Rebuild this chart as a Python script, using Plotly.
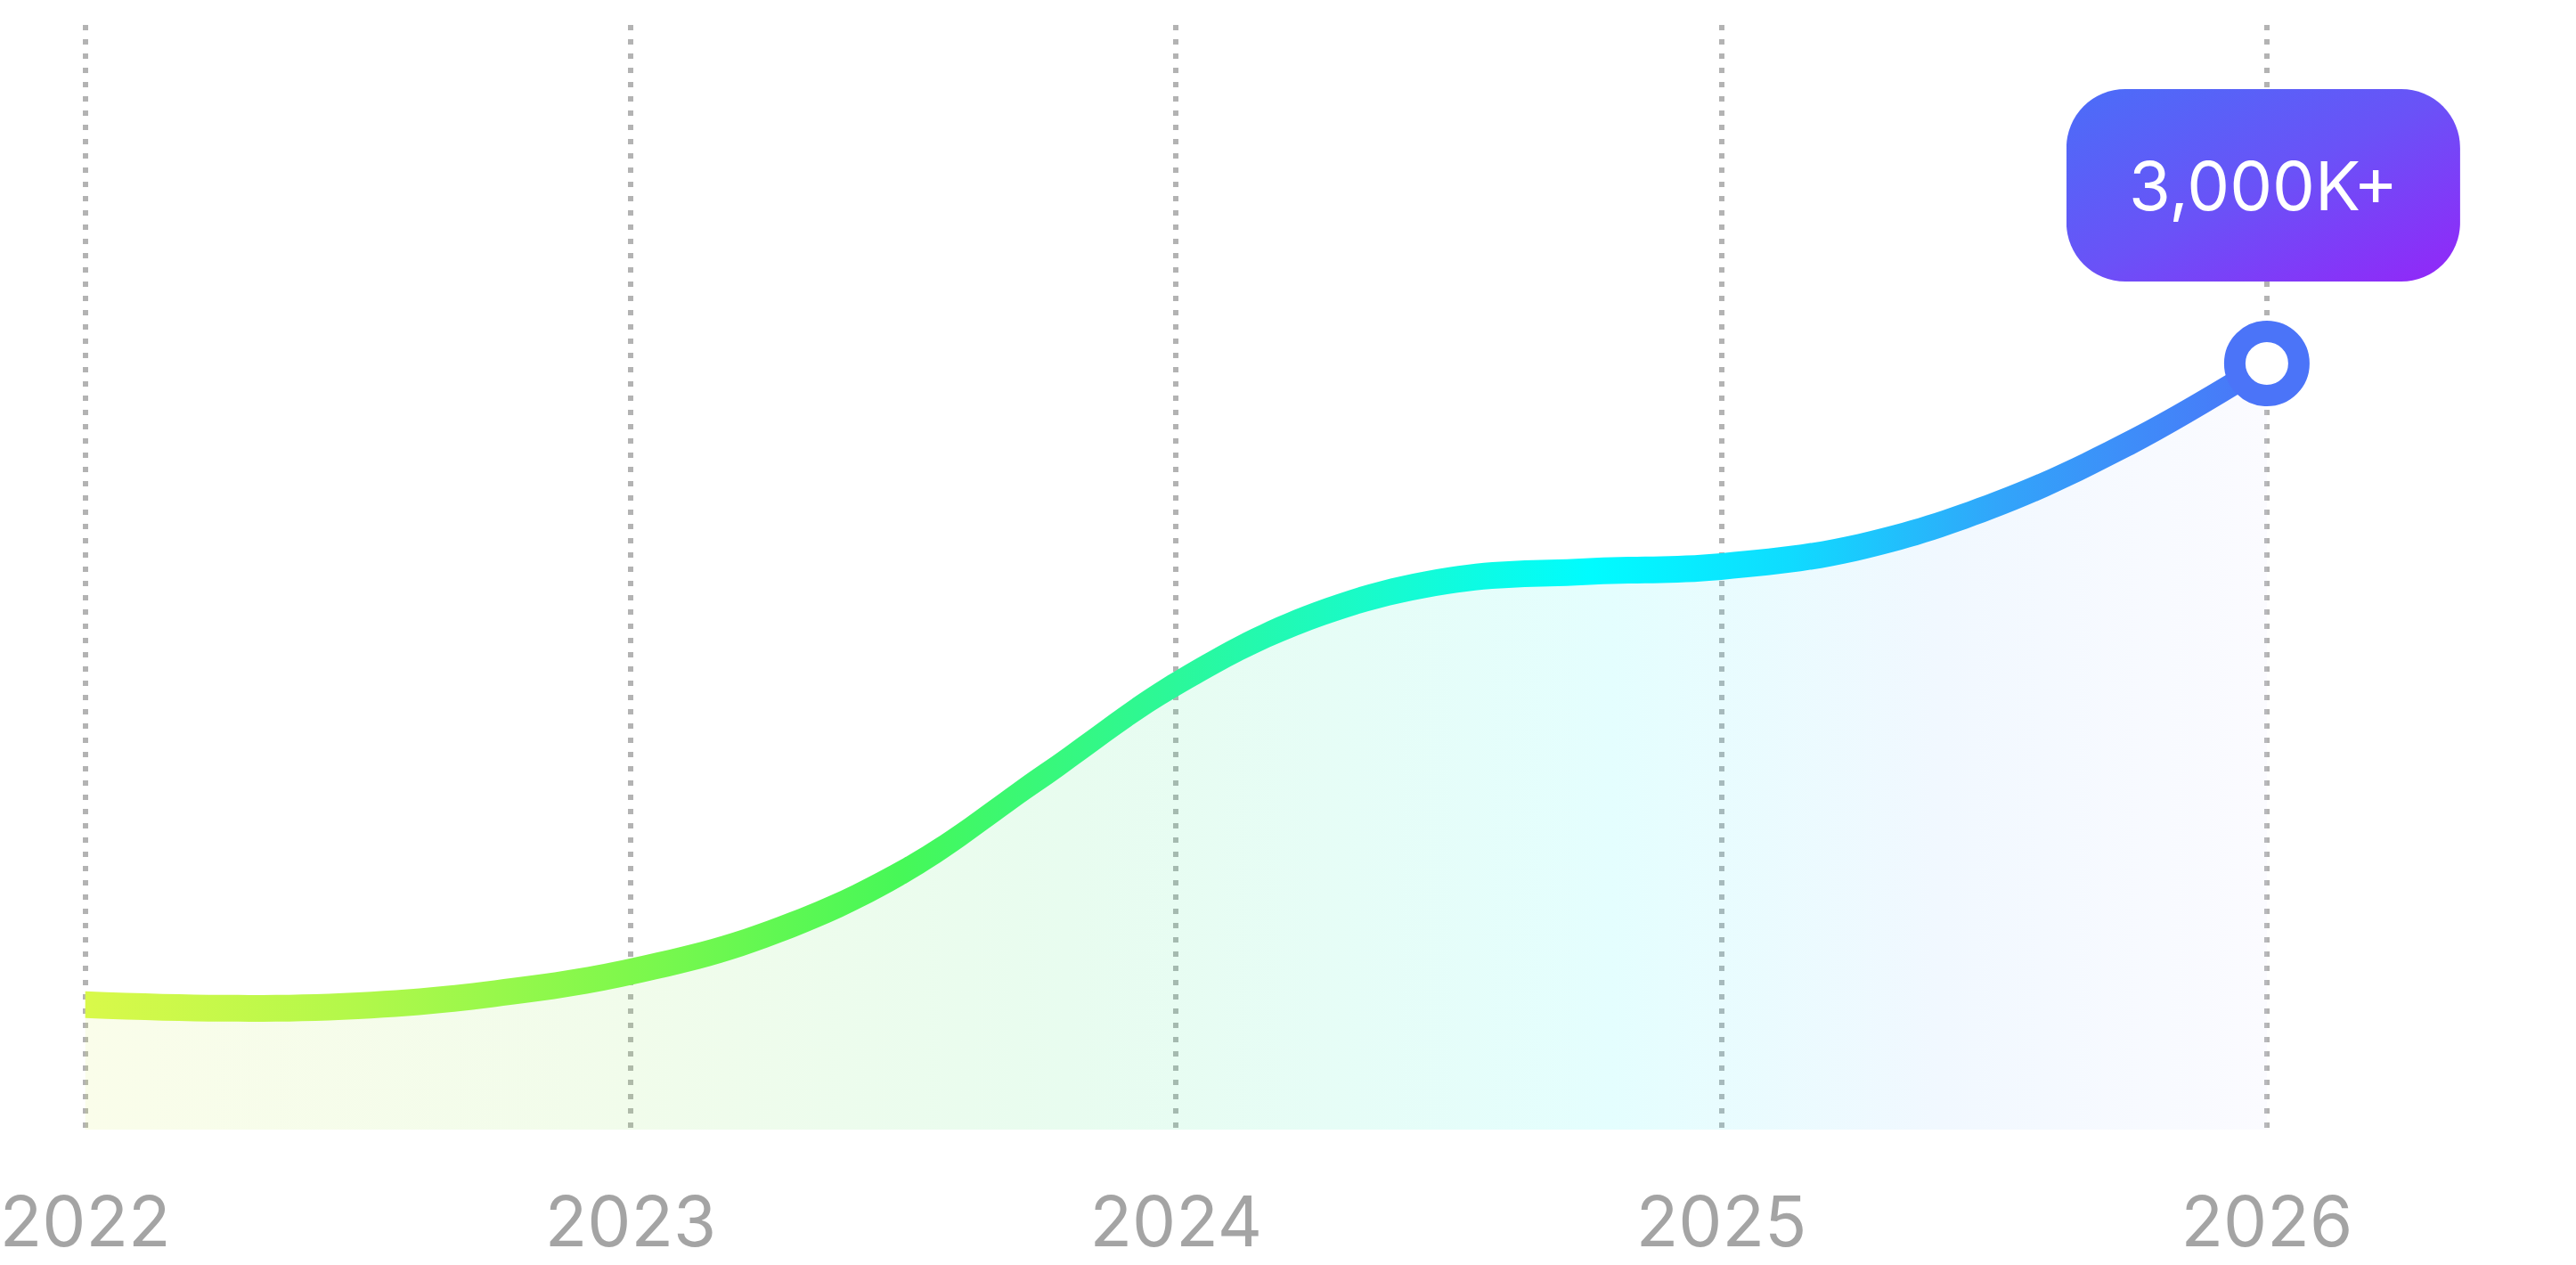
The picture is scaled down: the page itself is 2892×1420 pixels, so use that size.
import base64
import plotly.graph_objects as go

# ---------------- data ----------------
years = [2022.0, 2022.25, 2022.5, 2022.75, 2023.0, 2023.25, 2023.5, 2023.75,
         2024.0, 2024.25, 2024.5, 2024.75, 2025.0, 2025.25, 2025.5, 2025.75, 2026.0]
users_k = [489, 475, 485, 532, 618, 765, 1010, 1375,
           1745, 2010, 2150, 2185, 2205, 2280, 2445, 2690, 3000]
tick_years = [2022, 2023, 2024, 2025, 2026]
tick_labels = ["2022", "2023", "2024", "2025", "2026"]
badge_text = f"{users_k[-1]:,}K+"

# ---------------- layout constants ----------------
W, H = 2892, 1420
M_T, M_B = 28, 152
PLOT_H = H - M_T - M_B
X0_PX = 95.7            # pixel position of first year
PX_PER_YEAR = 612.3
PX_PER_K = 860 / 3000   # vertical pixels per thousand users
x_range = [years[0] - X0_PX / PX_PER_YEAR, years[0] + (W - X0_PX) / PX_PER_YEAR]
y_range = [0, PLOT_H / PX_PER_K]

LINE_HALF_PX = 15
half_k = LINE_HALF_PX / PX_PER_K
upper = [v + half_k for v in users_k]
lower = [v - half_k for v in users_k]

line_scale = [
    [0.0, "#d9f94a"], [0.125, "#b2f84a"], [0.25, "#7ef84c"], [0.375, "#46f858"],
    [0.5, "#2bf89a"], [0.6, "#16fbd0"], [0.69, "#00fcff"], [0.78, "#0fdcff"],
    [0.875, "#31a6fa"], [1.0, "#4b74f8"],
]

def tint(hexcol, a=0.13):
    h = hexcol.lstrip("#")
    rgb = [int(h[i:i + 2], 16) for i in (0, 2, 4)]
    base = [max(0, min(255, round(255 - (255 - c) / a))) for c in rgb]
    return f"rgba({base[0]},{base[1]},{base[2]},{a})"

fill_scale = [
    [0.0, tint("#fafdea")], [0.25, tint("#f1fceb")], [0.45, tint("#e8fcef")],
    [0.7, tint("#e4fefe")], [0.85, tint("#f1f8ff")], [1.0, tint("#fbfbff")],
]

CLEAR = "rgba(0,0,0,0)"
edge = dict(width=0.5, color=CLEAR, shape="spline", smoothing=1.1, simplify=False)

fig = go.Figure()

# area under the curve
fig.add_trace(go.Scatter(
    x=years, y=users_k, mode="lines", line=edge,
    fill="tozeroy", fillcolor=CLEAR,
    fillgradient=dict(type="horizontal", colorscale=fill_scale,
                      start=years[0], stop=years[-1]),
    hoverinfo="skip", showlegend=False,
))

# gradient line drawn as a thin band
fig.add_trace(go.Scatter(
    x=years, y=lower, mode="lines", line=edge,
    hoverinfo="skip", showlegend=False,
))
fig.add_trace(go.Scatter(
    x=years, y=upper, mode="lines", line=edge,
    fill="tonexty", fillcolor=CLEAR,
    fillgradient=dict(type="horizontal", colorscale=line_scale,
                      start=years[0], stop=years[-1]),
    hoverinfo="skip", showlegend=False,
))

# end point marker
fig.add_trace(go.Scatter(
    x=[years[-1]], y=[users_k[-1]], mode="markers",
    marker=dict(size=72, color="white", line=dict(width=24, color="#4b74f8")),
    hoverinfo="skip", showlegend=False,
))

# badge above the last point
BADGE_W, BADGE_H, BADGE_GAP = 442, 216, 200
badge_y = users_k[-1] + BADGE_GAP / PX_PER_K
svg = (
    f'<svg xmlns="http://www.w3.org/2000/svg" width="{BADGE_W}" height="{BADGE_H}" '
    f'viewBox="0 0 {BADGE_W} {BADGE_H}" preserveAspectRatio="none">'
    '<defs><linearGradient id="g" x1="0" y1="0" x2="1" y2="1">'
    '<stop offset="0" stop-color="#4a6ef8"/><stop offset="0.5" stop-color="#6a52f7"/>'
    '<stop offset="1" stop-color="#9326f8"/></linearGradient></defs>'
    f'<rect x="0" y="0" width="{BADGE_W}" height="{BADGE_H}" rx="66" ry="66" fill="url(#g)"/>'
    '</svg>'
)
src = "data:image/svg+xml;base64," + base64.b64encode(svg.encode()).decode()
fig.add_layout_image(dict(
    source=src, xref="x", yref="y", x=years[-1] - 4 / PX_PER_YEAR, y=badge_y,
    sizex=BADGE_W / PX_PER_YEAR, sizey=BADGE_H / PX_PER_K,
    xanchor="center", yanchor="middle", sizing="stretch", layer="above",
))
fig.add_annotation(
    x=years[-1], y=badge_y, xref="x", yref="y", text=badge_text, showarrow=False,
    font=dict(family="Inter", size=76, color="white"), xshift=-4, yshift=0,
)

fig.update_layout(
    width=W, height=H,
    margin=dict(l=0, r=0, t=M_T, b=M_B, pad=0),
    paper_bgcolor="white", plot_bgcolor="white",
    hovermode=False, showlegend=False,
    xaxis=dict(
        range=x_range, tickmode="array", tickvals=tick_years, ticktext=tick_labels,
        showgrid=True, gridcolor="#b3b3b3", gridwidth=6, griddash="6px,10px",
        zeroline=False, showline=False, automargin=False,
        ticks="outside", ticklen=36, tickcolor=CLEAR,
        ticklabeloverflow="allow",
        tickfont=dict(family="Inter", size=78, color="#a4a4a4"),
        fixedrange=True,
    ),
    yaxis=dict(range=y_range, visible=False, showgrid=False, zeroline=False,
               fixedrange=True, automargin=False),
)

fig.write_html(
    "out.html",
    config=dict(displayModeBar=False),
    post_script=(
        "document.body.style.margin='0';document.body.style.overflow='hidden';"
        "document.querySelectorAll('path.js-fill, path.js-tonext').forEach("
        "function(p){p.style.shapeRendering='geometricPrecision';});"
    ),
)
